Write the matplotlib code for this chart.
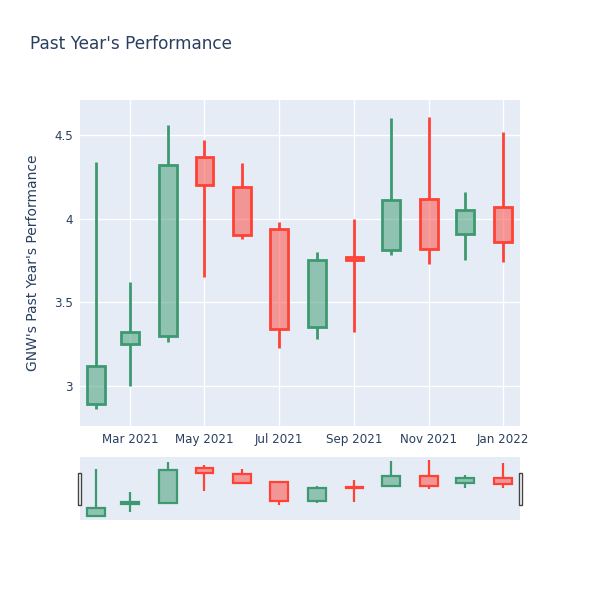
## Monthly candlestick chart for GNW with a range slider strip underneath
import numpy as np
import pandas as pd
import matplotlib
matplotlib.use('Agg')
import matplotlib.pyplot as plt
import matplotlib.dates as mdates
import matplotlib.patches as patches

# Monthly OHLC values
months = ['2021-02-01', '2021-03-01', '2021-04-01', '2021-05-01', '2021-06-01', '2021-07-01',
          '2021-08-01', '2021-09-01', '2021-10-01', '2021-11-01', '2021-12-01', '2022-01-01']
opens = [2.89, 3.25, 3.30, 4.37, 4.19, 3.94, 3.35, 3.77, 3.81, 4.12, 3.91, 4.07]
highs = [4.34, 3.62, 4.56, 4.47, 4.33, 3.98, 3.80, 4.00, 4.60, 4.61, 4.16, 4.52]
lows = [2.86, 3.00, 3.26, 3.65, 3.88, 3.23, 3.28, 3.32, 3.78, 3.73, 3.75, 3.74]
closes = [3.12, 3.32, 4.32, 4.20, 3.90, 3.34, 3.75, 3.755, 4.11, 3.82, 4.05, 3.86]

title = "Past Year's Performance"
y_title = "GNW's Past Year's Performance"

INC = '#3D9970'
DEC = '#FF4136'
BG = '#E5ECF6'
TXT = '#2a3f5f'

plt.rcParams['font.family'] = ['DejaVu Sans']

dates = pd.to_datetime(months)
x = mdates.date2num(dates)
box_w = 14.6  # days
xmin = mdates.date2num(pd.Timestamp('2021-01-18 22:00'))
xmax = mdates.date2num(pd.Timestamp('2022-01-14 20:00'))
ymin, ymax = 2.761, 4.709


def draw_candles(ax, lw=2):
    for xi, o, h, l, c in zip(x, opens, highs, lows, closes):
        col = INC if c >= o else DEC
        lo, hi = min(o, c), max(o, c)
        ax.vlines(xi, l, lo, color=col, lw=lw, zorder=3)
        ax.vlines(xi, hi, h, color=col, lw=lw, zorder=3)
        ax.add_patch(patches.Rectangle((xi - box_w / 2, lo), box_w, max(hi - lo, 0.002),
                                       facecolor=col, alpha=0.5, edgecolor='none', zorder=3))
        ax.add_patch(patches.Rectangle((xi - box_w / 2, lo), box_w, max(hi - lo, 0.002),
                                       facecolor='none', edgecolor=col, lw=lw, zorder=4))


fig = plt.figure(figsize=(6, 6), dpi=100)

# main chart
ax = fig.add_axes([80 / 600, 1 - 426 / 600, 440 / 600, 326 / 600])
ax.set_facecolor(BG)
draw_candles(ax)
ax.set_xlim(xmin, xmax)
ax.set_ylim(ymin, ymax)
ax.xaxis.set_major_locator(mdates.MonthLocator(bymonth=[1, 3, 5, 7, 9, 11]))
ax.xaxis.set_major_formatter(mdates.DateFormatter('%b %Y'))
ax.set_yticks([3, 3.5, 4, 4.5])
ax.set_yticklabels(['3', '3.5', '4', '4.5'])
ax.grid(True, color='white', lw=1)
ax.set_axisbelow(True)
for s in ax.spines.values():
    s.set_visible(False)
ax.tick_params(length=0, labelsize=8.6, labelcolor=TXT, pad=5)
ax.set_ylabel(y_title, fontsize=10, color=TXT, labelpad=10)

# range slider
sl = fig.add_axes([80 / 600, 1 - 520 / 600, 440 / 600, 63 / 600])
sl.set_facecolor(BG)
draw_candles(sl, lw=1.6)
sl.set_xlim(xmin, xmax)
sl.set_ylim(ymin, ymax)
sl.set_xticks([])
sl.set_yticks([])
for s in sl.spines.values():
    s.set_visible(False)

# slider handles
for hx in [77.5, 518.5]:
    fig.add_artist(patches.Rectangle((hx / 600, 1 - 505 / 600), 3.5 / 600, 32 / 600,
                                     transform=fig.transFigure, facecolor='white',
                                     edgecolor='#444444', lw=1))

fig.text(30 / 600, 1 - 44 / 600, title, fontsize=12.2, color=TXT, va='center', ha='left')

fig.savefig('out.png', dpi=100, facecolor='white')
plt.close()
